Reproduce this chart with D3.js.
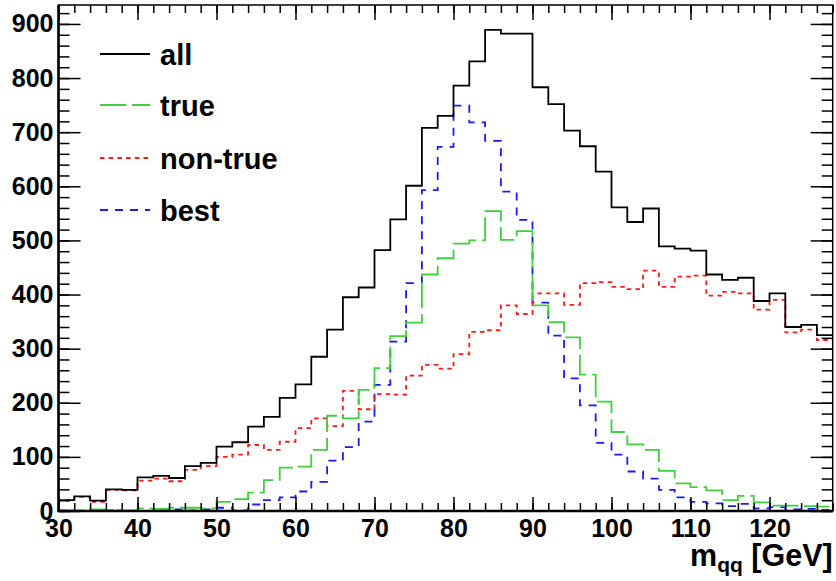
<!DOCTYPE html>
<html>
<head>
<meta charset="utf-8">
<script src="https://cdn.jsdelivr.net/npm/d3@7/dist/d3.min.js"></script>
<style>
  html, body { margin: 0; padding: 0; background: #fff; }
  svg { display: block; }
  text { font-family: "Liberation Sans", Arial, Helvetica, sans-serif; font-weight: bold; fill: #000; }
</style>
</head>
<body>
<svg id="chart" width="836" height="581"></svg>
<script>
// ---- data (bin lower edges, 2 GeV bins from 30 to 128) ----
const binEdges = [30,32,34,36,38,40,42,44,46,48,50,52,54,56,58,60,62,64,66,68,70,72,74,76,78,80,82,84,86,88,90,92,94,96,98,100,102,104,106,108,110,112,114,116,118,120,122,124,126];
const xMax = 128;
const allVals = [20,27,19,40,39,62,65,61,83,89,119,127,156,174,209,234,285,335,395,413,482,539,601,708,730,786,831,889,882,882,783,752,703,674,627,561,534,559,489,485,481,437,427,431,388,402,340,344,325];
const trueVals = [1,1,3,2,1,5,4,6,6,5,17,22,34,57,80,82,113,176,171,224,264,323,348,437,467,494,500,554,501,517,380,349,321,252,202,146,123,113,74,51,44,38,20,28,16,10,10,9,8];
const nonTrueVals = [19,26,17,39,38,56,60,55,76,83,100,104,122,113,128,153,171,157,222,188,216,215,250,270,263,290,331,334,380,364,402,402,381,421,423,414,410,444,414,433,435,398,405,402,372,390,330,335,316];
const bestVals = [1,0,1,1,0,0,1,3,1,3,6,1,12,20,25,36,54,93,118,165,233,313,421,593,673,749,718,684,590,538,385,324,245,195,126,104,73,60,39,25,17,14,9,13,5,7,3,4,2];
const seriesNames = ["all","true","non-true","best"];
const xTicks = [30,40,50,60,70,80,90,100,110,120];
const yTicks = [0,100,200,300,400,500,600,700,800,900];
const yMax = 935;

// ---- layout ----
const svg = d3.select("#chart");
const L = 58.5, R = 832.7, T = 5, B = 511;
const x = d3.scaleLinear().domain([30, xMax]).range([L, R]);
const y = d3.scaleLinear().domain([0, yMax]).range([B, T]);

const styles = [
  {vals: allVals, color: "#000000", dash: null, width: 1.8},
  {vals: trueVals, color: "#3fcf3f", dash: "26,6", width: 1.8},
  {vals: nonTrueVals, color: "#ff1a1a", dash: "4.5,4.2", width: 1.8},
  {vals: bestVals, color: "#1a1aff", dash: "8,7", width: 1.8}
];

svg.append("defs").append("clipPath").attr("id","clip")
  .append("rect").attr("x", L).attr("y", T).attr("width", R - L).attr("height", B - T);

const line = d3.line().x(d => x(d[0])).y(d => y(d[1])).curve(d3.curveStepAfter);

const g = svg.append("g").attr("clip-path", "url(#clip)");
// draw in order: best, non-true, true, all
[3,2,1,0].forEach(i => {
  const s = styles[i];
  const pts = binEdges.map((e, k) => [e, s.vals[k]]);
  pts.push([xMax, s.vals[s.vals.length - 1]]);
  pts.unshift([30, 0]);
  g.append("path")
    .attr("d", line(pts))
    .attr("fill", "none")
    .attr("stroke", s.color)
    .attr("stroke-width", s.width)
    .attr("stroke-dasharray", s.dash);
});

// ---- axes ----
const minorX = d3.range(30, xMax + 0.001, 2);
const minorY = d3.range(0, yMax, 20);

function styleAxis(sel) {
  sel.select(".domain").remove();
  sel.selectAll(".tick line").attr("stroke", "#000").attr("stroke-width", 1.5);
  sel.selectAll("text").style("font-size", "25px").attr("fill", "#000");
}

// bottom
svg.append("g").attr("transform", `translate(0,${B})`)
  .call(d3.axisBottom(x).tickValues(minorX).tickSizeInner(-8).tickSizeOuter(0).tickFormat(""))
  .call(styleAxis);
svg.append("g").attr("transform", `translate(0,${B})`)
  .call(d3.axisBottom(x).tickValues(xTicks).tickSizeInner(-14).tickSizeOuter(0).tickPadding(8).tickFormat(d3.format("d")))
  .call(styleAxis);
// top
svg.append("g").attr("transform", `translate(0,${T})`)
  .call(d3.axisTop(x).tickValues(minorX).tickSizeInner(-8).tickSizeOuter(0).tickFormat(""))
  .call(styleAxis);
svg.append("g").attr("transform", `translate(0,${T})`)
  .call(d3.axisTop(x).tickValues(xTicks).tickSizeInner(-15).tickSizeOuter(0).tickFormat(""))
  .call(styleAxis);
// left
svg.append("g").attr("transform", `translate(${L},0)`)
  .call(d3.axisLeft(y).tickValues(minorY).tickSizeInner(-11).tickSizeOuter(0).tickFormat(""))
  .call(styleAxis);
svg.append("g").attr("transform", `translate(${L},0)`)
  .call(d3.axisLeft(y).tickValues(yTicks).tickSizeInner(-22).tickSizeOuter(0).tickPadding(5).tickFormat(d3.format("d")))
  .call(styleAxis);
// right
svg.append("g").attr("transform", `translate(${R},0)`)
  .call(d3.axisRight(y).tickValues(minorY).tickSizeInner(-11).tickSizeOuter(0).tickFormat(""))
  .call(styleAxis);
svg.append("g").attr("transform", `translate(${R},0)`)
  .call(d3.axisRight(y).tickValues(yTicks).tickSizeInner(-22).tickSizeOuter(0).tickFormat(""))
  .call(styleAxis);

// frame
svg.append("rect").attr("x", L).attr("y", T).attr("width", R - L).attr("height", B - T)
  .attr("fill", "none").attr("stroke", "#000").attr("stroke-width", 1.5);
svg.append("line").attr("x1", L).attr("x2", L).attr("y1", T).attr("y2", B + 1)
  .attr("stroke", "#000").attr("stroke-width", 2.5);
svg.append("line").attr("x1", L - 1).attr("x2", R).attr("y1", B).attr("y2", B)
  .attr("stroke", "#000").attr("stroke-width", 2.5);

// axis title
const title = svg.append("text").attr("x", R).attr("y", 566).attr("text-anchor", "end")
  .style("font-size", "30.5px");
title.append("tspan").text("m");
title.append("tspan").text("qq").style("font-size", "21px").attr("dy", 6);
title.append("tspan").text("\u00a0[GeV]").attr("dy", -6);

// legend
const legendY = [54, 105, 158, 210];
const leg = svg.append("g");
seriesNames.forEach((name, i) => {
  const s = styles[i];
  leg.append("line").attr("x1", 100).attr("x2", 150).attr("y1", legendY[i]).attr("y2", legendY[i])
    .attr("stroke", s.color).attr("stroke-width", s.width).attr("stroke-dasharray", s.dash);
  leg.append("text").attr("x", 160).attr("y", legendY[i] + 11).style("font-size", "29px").text(name);
});
</script>
</body>
</html>
